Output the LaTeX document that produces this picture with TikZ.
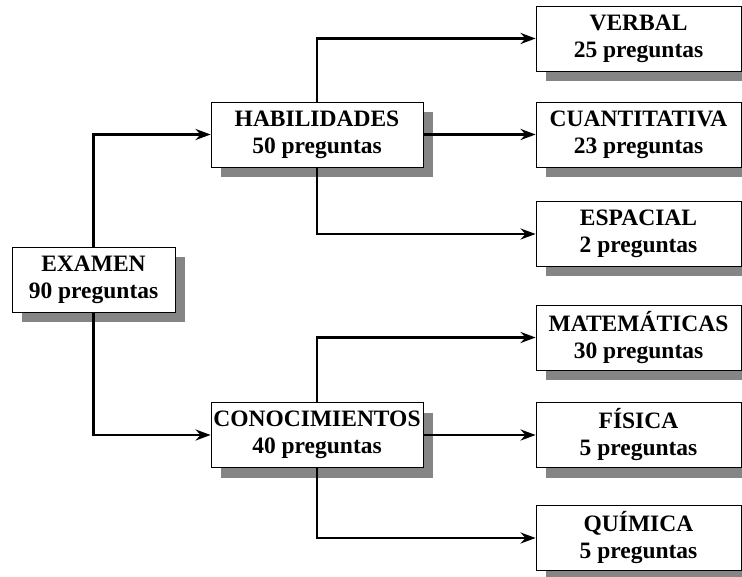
\documentclass[tikz,border=0pt]{standalone}
\usepackage{fontspec}
\setmainfont{Liberation Serif}
\usetikzlibrary{arrows.meta, positioning, shadows}

\begin{document}
\begin{tikzpicture}[x=1pt, y=-1pt]
\tikzset{
  >={Stealth[length=15pt, width=11pt]},
  caja/.style={
    rectangle,
    draw=black, line width=0.8pt,
    fill=white,
    drop shadow={shadow xshift=10pt, shadow yshift=-10pt, fill=black!48, opacity=1},
    minimum height=65pt,
    inner sep=0pt,
    align=center,
    execute at begin node={\rule{0pt}{24pt}},
    font=\fontsize{23.5}{27}\selectfont\bfseries},
  raiz/.style={caja, minimum width=163pt},
  rama/.style={caja, minimum width=212pt},
  hoja/.style={caja, minimum width=205pt},
  linea/.style={draw, line width=2.8pt, ->},
}
\useasboundingbox (0,0) rectangle (742,577);

\node[raiz] (examen) at (93.5,279.5) {EXAMEN\\90 preguntas};

\node[rama] (habilidades) at (317,134.5) {HABILIDADES\\50 preguntas};
\node[rama] (conocimientos) at (317,435) {CONOCIMIENTOS\\40 preguntas};

\node[hoja] (verbal) at (638.5,38.5) {VERBAL\\25 preguntas};
\node[hoja] (cuantitativa) at (638.5,134.5) {CUANTITATIVA\\23 preguntas};
\node[hoja] (espacial) at (638.5,234) {ESPACIAL\\2 preguntas};
\node[hoja] (matematicas) at (638.5,337.5) {MATEMÁTICAS\\30 preguntas};
\node[hoja] (fisica) at (638.5,435) {FÍSICA\\5 preguntas};
\node[hoja] (quimica) at (638.5,538) {QUÍMICA\\5 preguntas};

\draw[linea] (examen.north) |- (habilidades.west);
\draw[linea] (examen.south) |- (conocimientos.west);

\draw[linea] (habilidades.north) |- (verbal.west);
\draw[linea] (habilidades.east) -- (cuantitativa.west);
\draw[linea] (habilidades.south) |- (espacial.west);

\draw[linea] (conocimientos.north) |- (matematicas.west);
\draw[linea] (conocimientos.east) -- (fisica.west);
\draw[linea] (conocimientos.south) |- (quimica.west);

\end{tikzpicture}
\end{document}
